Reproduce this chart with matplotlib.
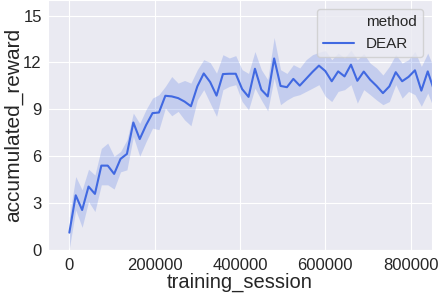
import matplotlib
matplotlib.use("Agg")
import matplotlib.pyplot as plt
import numpy as np
import seaborn as sns

sns.set_style("darkgrid")
plt.rcParams['font.family'] = ['Liberation Sans', 'DejaVu Sans']

# training sessions, one point every 15000
steps = np.arange(58) * 15000

reward_mean = [1.11, 3.5, 2.56, 4.06, 3.59, 5.4, 5.4, 4.87, 5.83, 6.15,
               8.16, 7.1, 8.0, 8.76, 8.8, 9.87, 9.83, 9.72, 9.5, 9.2,
               10.47, 11.3, 10.75, 9.88, 11.26, 11.28, 11.28, 10.3, 9.8, 11.6,
               10.26, 9.83, 12.26, 10.5, 10.42, 10.95, 10.52, 10.96, 11.4, 11.8,
               11.45, 10.8, 11.43, 11.11, 11.86, 10.83, 11.42, 10.9, 10.5, 10.04,
               10.47, 11.38, 10.8, 11.08, 11.5, 10.2, 11.43, 10.2]
reward_upper = [2.1, 4.7, 3.85, 5.17, 4.8, 6.5, 6.84, 6.0, 6.3, 7.05,
                8.76, 8.1, 9.0, 9.72, 9.94, 10.47, 11.1, 10.68, 10.85, 10.68,
                11.54, 12.18, 12.0, 11.32, 12.5, 12.29, 12.44, 11.54, 11.3, 12.7,
                11.54, 10.9, 13.6, 11.54, 11.3, 11.86, 11.65, 12.18, 12.5, 12.65,
                12.76, 12.18, 12.6, 12.29, 12.78, 12.18, 12.56, 11.96, 11.65, 11.2,
                11.75, 12.5, 11.96, 12.18, 12.7, 11.75, 12.6, 11.6]
reward_lower = [0.1, 2.56, 1.45, 3.1, 2.46, 4.17, 4.17, 3.9, 5.0, 5.13,
                7.26, 6.0, 6.94, 7.8, 7.7, 9.08, 8.59, 8.87, 8.33, 7.95,
                9.6, 10.26, 9.4, 8.55, 10.26, 10.47, 10.58, 9.5, 8.97, 10.36,
                9.6, 8.9, 11.0, 9.3, 9.6, 9.83, 9.94, 10.15, 10.36, 10.58,
                9.83, 9.5, 10.15, 10.26, 10.58, 9.4, 10.26, 9.94, 9.6, 9.3,
                9.5, 10.58, 9.72, 10.15, 9.94, 9.2, 10.04, 9.0]

color = "#4169e1"

fig = plt.figure(figsize=(4.42, 2.94), dpi=100)
ax = fig.add_axes([0.1086, 0.1497, 0.8688, 0.8503])

ax.fill_between(steps, reward_lower, reward_upper, color=color, alpha=0.22, lw=0)
ax.plot(steps, reward_mean, color=color, lw=1.5, label="DEAR")
ax.plot([], [], color="none", label="method")

ax.set_xlim(-50000, 850000)
ax.set_ylim(0, 16)
ax.set_xticks([0, 200000, 400000, 600000, 800000])
ax.set_yticks([0, 3, 6, 9, 12, 15])
ax.tick_params(axis="x", labelsize=12, pad=2)
ax.tick_params(axis="y", labelsize=12, pad=1)
ax.set_xlabel("training_session", fontsize=14.5, labelpad=0)
ax.set_ylabel("accumulated_reward", fontsize=15)
ax.yaxis.set_label_coords(-0.065, 0.5)

handles, labels = ax.get_legend_handles_labels()
ax.legend(handles[::-1], labels[::-1], loc="upper right", fontsize=11,
          borderaxespad=0.6)

fig.savefig("out.png", dpi=100)
